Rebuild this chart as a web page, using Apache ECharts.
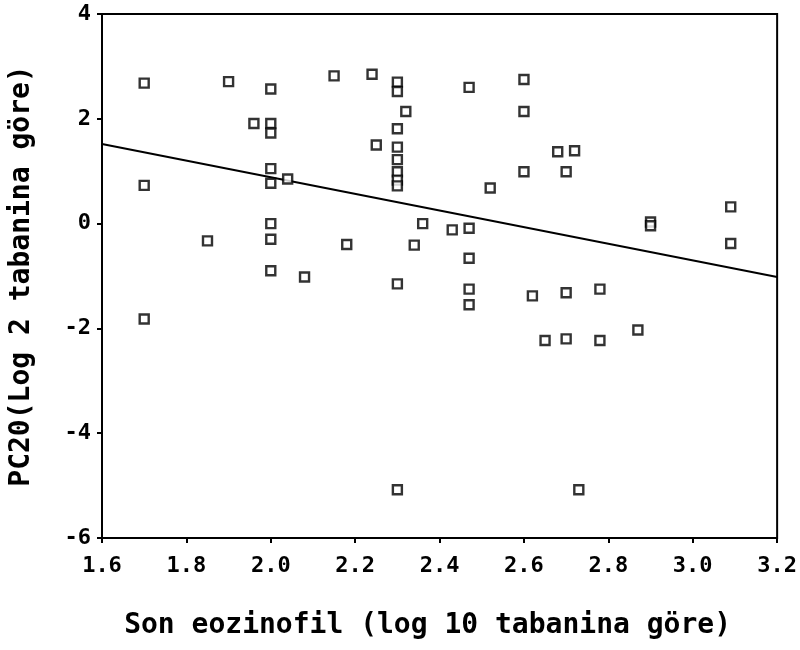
<!DOCTYPE html>
<html><head><meta charset="utf-8">
<script src="https://cdn.jsdelivr.net/npm/echarts@6/dist/echarts.min.js"></script>
<style>html,body{margin:0;padding:0;background:#fff}#c{width:800px;height:650px}</style>
</head><body><div id="c"></div>
<script>
// Scatter data: son eozinofil (log10) vs PC20 (log2)
const xVals = [1.70,1.90,2.00,2.15,2.24,2.30,2.30,2.32,1.96,2.00,2.00,2.30,2.25,2.30,2.30,2.30,2.30,2.30,2.00,2.00,2.04,1.70,2.00,2.36,1.85,2.00,2.18,2.34,2.00,2.08,1.70,2.30,2.30,2.47,2.60,2.60,2.68,2.72,2.60,2.70,2.52,3.09,2.90,2.90,3.09,2.43,2.47,2.47,2.47,2.47,2.62,2.70,2.78,2.87,2.65,2.70,2.78,2.73];
const yVals = [2.68,2.71,2.57,2.82,2.85,2.70,2.52,2.14,1.91,1.91,1.73,1.81,1.50,1.46,1.22,0.99,0.83,0.72,1.05,0.77,0.85,0.73,0.00,0.00,-0.33,-0.30,-0.40,-0.41,-0.90,-1.02,-1.82,-1.15,-5.08,2.60,2.75,2.14,1.37,1.39,0.99,0.99,0.68,0.32,0.03,-0.04,-0.38,-0.12,-0.09,-0.66,-1.25,-1.55,-1.38,-1.32,-1.25,-2.03,-2.23,-2.20,-2.23,-5.08];
// Regression line end points
const fitX = [1.6, 3.2];
const fitY = [1.52, -1.02];
const xTicks = {min: 1.6, max: 3.2, step: 0.2};
const yTicks = {min: -6, max: 4, step: 2};

const pts = xVals.map((x, i) => [x, yVals[i]]);
const fit = fitX.map((x, i) => [x, fitY[i]]);
const FONT = 'DejaVu Sans Mono';
const chart = echarts.init(document.getElementById('c'), null, {renderer: 'canvas'});
chart.setOption({
  animation: false,
  backgroundColor: '#fff',
  grid: {left: 102, right: 21, top: 14, bottom: 112, show: true, borderColor: '#000', borderWidth: 2},
  xAxis: {
    type: 'value', min: xTicks.min, max: xTicks.max, interval: xTicks.step,
    name: 'Son eozinofil (log 10 tabanina göre)', nameLocation: 'middle', nameGap: 74,
    nameTextStyle: {fontFamily: FONT, fontSize: 28, color: '#000', fontWeight: 'bold', padding: [0, 24, 0, 0]},
    axisLine: {onZero: false, lineStyle: {color: '#000', width: 2}},
    axisTick: {show: true, length: 5, lineStyle: {color: '#000', width: 2}},
    axisLabel: {fontFamily: FONT, fontSize: 22, color: '#000', fontWeight: 'bold', margin: 17,
      formatter: v => v.toFixed(1)},
    splitLine: {show: false}
  },
  yAxis: {
    type: 'value', min: yTicks.min, max: yTicks.max, interval: yTicks.step,
    name: 'PC20(Log 2 tabanina göre)', nameLocation: 'middle', nameGap: 66, nameRotate: 90,
    nameTextStyle: {fontFamily: FONT, fontSize: 28, color: '#000', fontWeight: 'bold'},
    axisLine: {onZero: false, lineStyle: {color: '#000', width: 2}},
    axisTick: {show: true, length: 5, lineStyle: {color: '#000', width: 2}},
    axisLabel: {fontFamily: FONT, fontSize: 22, color: '#000', fontWeight: 'bold', margin: 11},
    splitLine: {show: false}
  },
  series: [
    {type: 'scatter', data: pts, symbol: 'rect', symbolSize: 9,
     itemStyle: {color: '#fff', borderColor: '#000', borderWidth: 2.4}, z: 3},
    {type: 'line', data: fit, showSymbol: false, symbol: 'none',
     lineStyle: {color: '#000', width: 2}, z: 2}
  ]
});
</script></body></html>
